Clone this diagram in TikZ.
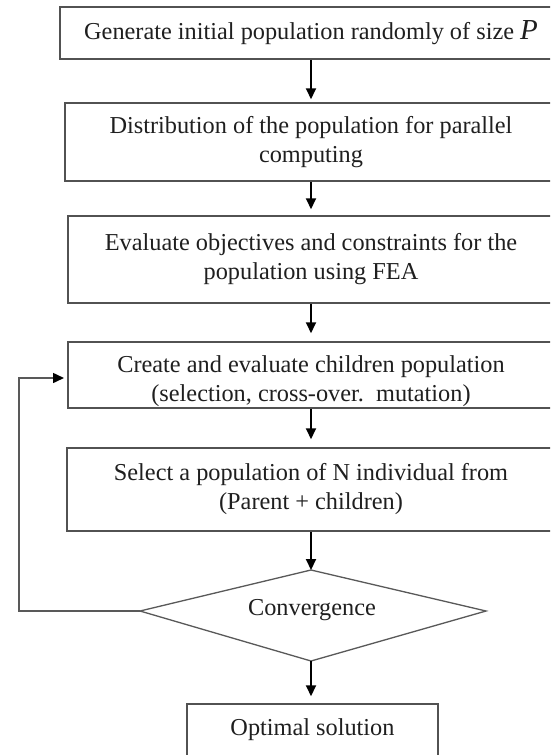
\documentclass[tikz,border=0pt]{standalone}
\usepackage{fontspec}
\setmainfont{Liberation Serif}
\usetikzlibrary{arrows.meta}
\begin{document}
\begin{tikzpicture}[x=1pt,y=-1pt,
  box/.style={draw=black!68, line width=1.5pt, rectangle, inner sep=0pt, align=center, text=black!88, font=\fontsize{24.3}{29}\selectfont},
  txt/.style={inner sep=0pt, align=center, text=black!88, font=\fontsize{24.3}{29}\selectfont},
  flow/.style={draw=black, line width=2pt, shorten >=4pt, -{Triangle[length=11pt,width=10pt]}},
  back/.style={draw=black!65, line width=1.5pt, shorten >=4pt, -{Triangle[length=11pt,width=10pt,color=black]}},
  dline/.style={draw=black!65, line width=1.3pt, line join=miter}]
\useasboundingbox (0,0) rectangle (550,755);
\clip (0,0) rectangle (550,755);
\fill[white] (0,0) rectangle (550,755);

\node[box, minimum width=502, minimum height=52] (b1) at (311,33)
  {Generate initial population randomly of size {\fontsize{29}{29}\selectfont\itshape P}};
\node[box, minimum width=492, minimum height=78] (b2) at (311,142)
  {Distribution of the population for parallel\\computing};
\node[box, minimum width=486, minimum height=87] (b3) at (311,259.5)
  {Evaluate objectives and constraints for the\\population using FEA};
\node[box, minimum width=486, minimum height=66] (b4) at (311,375) {};
\node[txt] (t4) at (311,381)
  {Create and evaluate children population\\(selection, cross-over.~~mutation)};
\node[box, minimum width=488, minimum height=83] (b5) at (311,489.5)
  {Select a population of N individual from\\(Parent + children)};

\coordinate (dT) at (311,570);
\coordinate (dR) at (486,611);
\coordinate (dB) at (311,661);
\coordinate (dL) at (140,611);
\draw[dline] (dT) -- (dR) -- (dB) -- (dL) -- cycle;
\node[txt] (conv) at (312,610) {Convergence};

\node[box, minimum width=251, minimum height=52] (b6) at (312.5,730) {Optimal solution};

\draw[flow, shorten >=3pt] (b1.south) -- (b2.north);
\draw[flow, shorten >=6pt] (b2.south) -- (b3.north);
\draw[flow, shorten >=8pt] (b3.south) -- (b4.north);
\draw[flow, shorten >=8pt] (b4.south) -- (b5.north);
\draw[flow, shorten >=0pt] (b5.south) -- (dT);
\draw[flow, shorten >=7pt] (dB) -- (dB |- b6.north);

\coordinate (fb) at (19,611);
\coordinate (fe) at (68,378);
\draw[back] (dL) -- (fb) |- (fe);
\end{tikzpicture}
\end{document}
